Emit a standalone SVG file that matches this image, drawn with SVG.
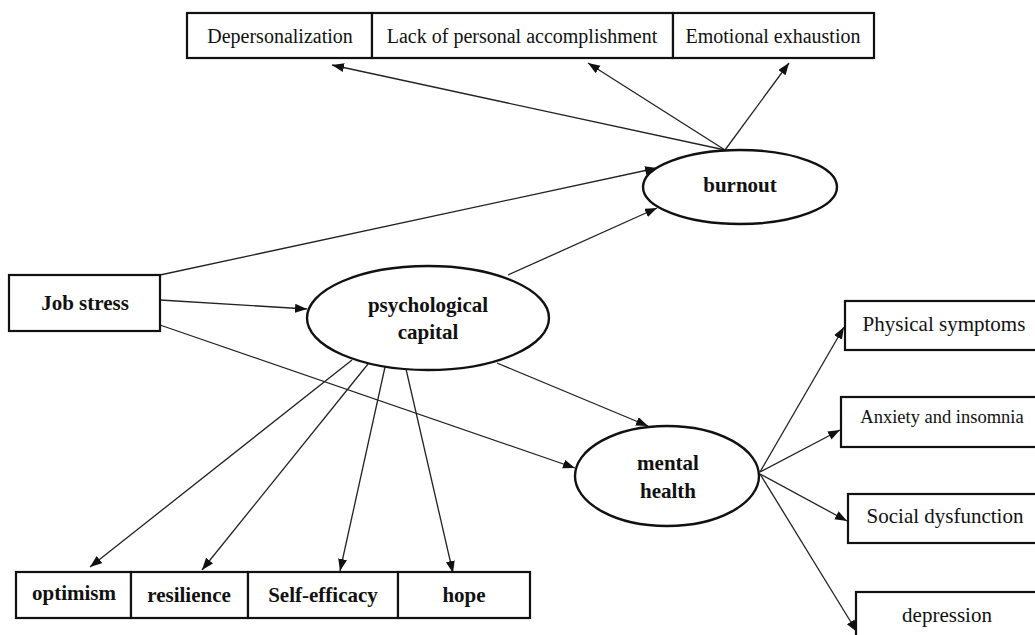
<svg xmlns="http://www.w3.org/2000/svg" width="1035" height="635" viewBox="0 0 1035 635">
<style>
.box{fill:#fff;stroke:#111;stroke-width:2.2}
.ell{fill:#fff;stroke:#111;stroke-width:2.4}
.t{font-family:"Liberation Serif","Times New Roman",serif;font-size:20px;fill:#111;text-anchor:middle}
.tr{font-family:"Liberation Serif","Times New Roman",serif;font-size:21px;fill:#111;text-anchor:middle}
.b{font-family:"Liberation Serif","Times New Roman",serif;font-size:21px;font-weight:bold;fill:#111;text-anchor:middle}
.c line{stroke:#222;stroke-width:1.3;marker-end:url(#ah)}
</style>
<defs>
<marker id="ah" markerUnits="userSpaceOnUse" markerWidth="13" markerHeight="10" refX="12" refY="4.5" orient="auto">
<path d="M0,0 L12,4.5 L0,9 z" fill="#111"/>
</marker>
</defs>
<rect width="1035" height="635" fill="#fff"/>
<g class="c" id="connectors">
<line x1="725" y1="150" x2="332" y2="65"/>
<line x1="725" y1="150" x2="588" y2="63"/>
<line x1="725" y1="150" x2="789" y2="63"/>
<line x1="160" y1="275" x2="657" y2="168"/>
<line x1="508" y1="275" x2="657" y2="208"/>
<line x1="160" y1="300" x2="307" y2="309"/>
<line x1="160" y1="325" x2="575" y2="468"/>
<line x1="497" y1="363" x2="648" y2="426"/>
<line x1="352" y1="360" x2="90" y2="567"/>
<line x1="368" y1="364" x2="202" y2="570"/>
<line x1="385" y1="367" x2="340" y2="571"/>
<line x1="406" y1="369" x2="453" y2="573"/>
<line x1="760" y1="472" x2="844" y2="327"/>
<line x1="760" y1="472" x2="840" y2="430"/>
<line x1="760" y1="474" x2="847" y2="521"/>
<line x1="760" y1="474" x2="857" y2="632"/>
</g>
<g id="depersonalization"><rect class="box" x="187" y="13" width="185" height="45"/><text class="t" x="280" y="43">Depersonalization</text></g>
<g id="lack"><rect class="box" x="372" y="13" width="301" height="45"/><text class="t" x="522" y="43">Lack of personal accomplishment</text></g>
<g id="emotional"><rect class="box" x="673" y="13" width="201" height="45"/><text class="t" x="773" y="43">Emotional exhaustion</text></g>
<g id="burnout"><ellipse class="ell" cx="740" cy="187" rx="97" ry="37"/><text class="b" x="740" y="192">burnout</text></g>
<g id="jobstress"><rect class="box" x="9" y="275" width="151" height="56"/><text class="b" x="85" y="310">Job stress</text></g>
<g id="psycap"><ellipse class="ell" cx="428" cy="318" rx="121" ry="52"/><text class="b" x="428" y="312">psychological</text><text class="b" x="428" y="339">capital</text></g>
<g id="mental"><ellipse class="ell" cx="667" cy="476" rx="92" ry="50"/><text class="b" x="668" y="470">mental</text><text class="b" x="668" y="498">health</text></g>
<g id="physical"><rect class="box" x="845" y="301" width="200" height="49"/><text class="tr" x="944" y="331">Physical symptoms</text></g>
<g id="anxiety"><rect class="box" x="841" y="397" width="205" height="50"/><text class="tr" x="942" y="423" style="font-size:18.5px">Anxiety and insomnia</text></g>
<g id="social"><rect class="box" x="848" y="494" width="200" height="49"/><text class="tr" x="945" y="523">Social dysfunction</text></g>
<g id="depression"><rect class="box" x="856" y="592" width="190" height="60"/><text class="tr" x="947" y="622">depression</text></g>
<g id="optimism"><rect class="box" x="16" y="572" width="115" height="46"/><text class="b" x="74" y="600">optimism</text></g>
<g id="resilience"><rect class="box" x="131" y="572" width="117" height="46"/><text class="b" x="189" y="602">resilience</text></g>
<g id="selfefficacy"><rect class="box" x="248" y="572" width="150" height="46"/><text class="b" x="323" y="602">Self-efficacy</text></g>
<g id="hope"><rect class="box" x="398" y="572" width="132" height="46"/><text class="b" x="464" y="602">hope</text></g>
</svg>
